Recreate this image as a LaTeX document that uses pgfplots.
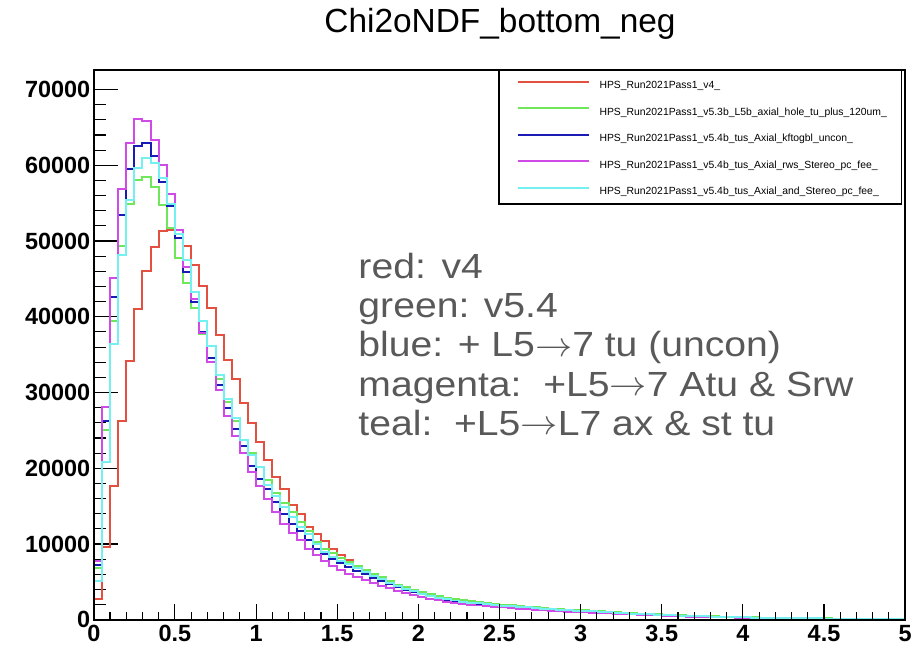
\documentclass[border=0pt]{standalone}
\usepackage{fontspec}
\setmainfont{Liberation Sans}
\newfontfamily\annfont[FakeStretch=1.12]{Liberation Sans}
\usepackage{graphicx}
\usepackage{pgfplots}
\usepackage{pgfplotstable}
\pgfplotsset{compat=1.18}
\definecolor{hred}{HTML}{E4503F}
\definecolor{hgreen}{HTML}{6EE85A}
\definecolor{hblue}{HTML}{1A1AB4}
\definecolor{hmag}{HTML}{D04AE8}
\definecolor{hcyan}{HTML}{74F0F0}
\definecolor{anngrey}{HTML}{595959}
\pgfplotstableread{
x r g b m c
0.00 2700 6800 7200 7700 5100
0.05 9600 25000 26300 28100 20800
0.10 17600 39400 42600 45100 36400
0.15 26200 49300 53400 56900 48100
0.20 34200 54900 59500 63000 55400
0.25 41000 58100 62600 66100 59600
0.30 46000 58500 63000 65900 61000
0.35 49200 57100 61200 63400 60300
0.40 51300 54800 57800 60100 58300
0.45 51500 51700 54600 56200 54900
0.50 50900 47800 50400 51400 50900
0.55 49300 44500 45900 46600 47500
0.60 46800 41100 42000 42300 43300
0.65 44100 37700 38000 37800 39400
0.70 41100 34500 34500 34000 36100
0.75 37600 31800 31000 30300 32300
0.80 34300 28800 27900 26900 29100
0.85 31800 26200 25200 24300 26700
0.90 28600 23700 23000 22000 23700
0.95 26000 22000 20300 19500 21700
1.00 23500 20200 18600 17700 20100
1.05 21100 18400 17300 15900 17800
1.10 18900 16700 15600 14200 16400
1.15 17300 15400 14000 12700 14900
1.20 15200 14200 12600 11500 13600
1.25 14000 12900 11700 10500 12300
1.30 12200 11700 10500 9400 11300
1.35 11300 10300 9400 8500 10000
1.40 10400 9400 8700 7800 8900
1.45 9400 8800 8000 7100 8300
1.50 8600 8200 7500 6600 7800
1.55 7900 7600 7000 6100 7300
1.60 7100 7100 6500 5600 6800
1.65 6400 6600 6000 5200 6300
1.70 5900 6100 5500 4800 5800
1.75 5500 5600 5100 4450 5350
1.80 5000 5100 4700 4150 4900
1.85 4550 4650 4300 3850 4450
1.90 4200 4300 3950 3550 4100
1.95 3850 3950 3650 3280 3750
2.00 3550 3650 3350 3000 3450
2.05 3200 3350 3080 2770 3160
2.10 2950 3100 2840 2580 2920
2.15 2760 2900 2640 2400 2730
2.20 2570 2700 2460 2240 2540
2.25 2420 2550 2310 2100 2400
2.30 2300 2420 2180 1980 2270
2.35 2190 2300 2060 1880 2160
2.40 2090 2200 1960 1790 2070
2.45 1990 2090 1860 1700 1960
2.50 1890 1990 1770 1620 1870
2.55 1800 1900 1690 1540 1790
2.60 1720 1810 1610 1470 1700
2.65 1630 1720 1530 1400 1620
2.70 1560 1640 1460 1330 1540
2.75 1480 1560 1390 1260 1470
2.80 1410 1480 1320 1200 1390
2.85 1340 1410 1250 1140 1330
2.90 1270 1340 1190 1080 1260
2.95 1220 1290 1140 1030 1210
3.00 1180 1240 1090 990 1170
3.05 1110 1170 1030 940 1100
3.10 1050 1110 980 890 1040
3.15 1000 1050 920 840 990
3.20 940 990 870 790 930
3.25 880 930 820 740 870
3.30 830 870 770 700 820
3.35 770 810 710 650 760
3.40 720 760 670 610 710
3.45 670 700 620 560 660
3.50 620 650 570 520 610
3.55 580 610 540 490 570
3.60 540 570 500 460 540
3.65 500 530 470 420 500
3.70 475 500 440 400 470
3.75 440 460 400 370 430
3.80 410 430 380 340 400
3.85 380 400 350 320 380
3.90 350 370 330 300 350
3.95 330 345 300 275 320
4.00 305 320 280 255 300
4.05 285 300 265 240 280
4.10 265 280 245 225 260
4.15 250 260 230 210 245
4.20 235 245 215 195 230
4.25 220 230 200 185 215
4.30 205 215 190 170 200
4.35 190 200 175 160 190
4.40 180 190 165 150 180
4.45 170 180 160 145 170
4.50 160 170 150 135 160
4.55 150 160 140 130 150
4.60 140 150 130 120 140
4.65 135 140 125 110 130
4.70 125 130 115 105 120
4.75 120 125 110 100 115
4.80 110 115 100 90 110
4.85 105 110 95 88 100
4.90 95 100 90 80 95
4.95 90 95 85 76 90
5.00 90 95 85 76 90
}\histdata
\newcommand{\arr}{\raisebox{0.02em}{\scalebox{1.5}[1.4]{\(\rightarrow\)}}}
\begin{document}
\begin{tikzpicture}
\path (0pt,0pt) rectangle (915pt,648pt);
% axis with data and y ticks
\begin{axis}[
  at={(94pt,27pt)}, anchor=south west,
  scale only axis, width=813pt, height=551pt,
  xmin=0, xmax=5, ymin=0, ymax=72600,
  axis line style={line width=1.6pt},
  tick style={black, line width=1.1pt},
  tick align=inside, tick pos=left,
  xtick=\empty,
  ytick={0,10000,20000,30000,40000,50000,60000,70000},
  minor y tick num=4,
  major tick length=24pt, minor tick length=12pt,
  scaled y ticks=false,
  /pgf/number format/assume math mode=true,
  yticklabel={\pgfmathprintnumber[fixed,precision=0,set thousands separator={}]{\tick}},
  yticklabel style={font=\fontsize{23.5}{24}\selectfont\bfseries},
  no markers,
  legend style={at={(axis description cs:0.521,0.981)}, anchor=north west,
    draw=none, fill=none, font=\fontsize{10.4}{12}\selectfont,
    row sep=15.5pt, inner sep=0pt, nodes={inner sep=1pt},
    /tikz/every odd column/.append style={column sep=9pt}},
  legend cell align=left,
  legend image code/.code={\draw[#1, line width=2pt] (0pt,3.8pt) -- (71pt,3.8pt);},
]
\addplot[const plot, hred, line width=2pt] table[x=x,y=r]{\histdata};
\addlegendentry{HPS\_Run2021Pass1\_v4\_}
\addplot[const plot, hgreen, line width=2pt] table[x=x,y=g]{\histdata};
\addlegendentry{HPS\_Run2021Pass1\_v5.3b\_L5b\_axial\_hole\_tu\_plus\_120um\_}
\addplot[const plot, hblue, line width=2pt] table[x=x,y=b]{\histdata};
\addlegendentry{HPS\_Run2021Pass1\_v5.4b\_tus\_Axial\_kftogbl\_uncon\_}
\addplot[const plot, hmag, line width=2pt] table[x=x,y=m]{\histdata};
\addlegendentry{HPS\_Run2021Pass1\_v5.4b\_tus\_Axial\_rws\_Stereo\_pc\_fee\_}
\addplot[const plot, hcyan, line width=2pt] table[x=x,y=c]{\histdata};
\addlegendentry{HPS\_Run2021Pass1\_v5.4b\_tus\_Axial\_and\_Stereo\_pc\_fee\_}
\draw[line width=1.1pt] (axis description cs:0.4994,1) rectangle (axis description cs:0.996,0.756);
\end{axis}
% axis for x ticks
\begin{axis}[
  at={(94pt,27pt)}, anchor=south west,
  scale only axis, width=813pt, height=551pt,
  xmin=0, xmax=5, ymin=0, ymax=72600,
  axis line style={line width=1.6pt},
  tick style={black, line width=1.1pt},
  tick align=inside, tick pos=left,
  ytick=\empty,
  xtick={0,0.5,1,1.5,2,2.5,3,3.5,4,4.5,5},
  minor x tick num=4,
  major tick length=16pt, minor tick length=8pt,
  /pgf/number format/assume math mode=true,
  xticklabel style={font=\fontsize{23.5}{24}\selectfont\bfseries, yshift=-2pt},
]
\end{axis}
\node[anchor=base, font=\fontsize{33.5}{34}\selectfont] at (501pt,615pt) {Chi2oNDF\_bottom\_neg};
\begin{scope}[every node/.style={anchor=base west, font=\annfont\fontsize{35}{35}\selectfont, text=anngrey, inner sep=0pt}]
\node at (359pt,369pt) {red:\hspace{0.45em}v4};
\node at (359pt,330pt) {green: v5.4};
\node at (359pt,290.5pt) {blue: + L5\arr7 tu (uncon)};
\node at (359pt,251pt) {magenta:\ \ +L5\arr7 Atu \& Srw};
\node at (359pt,211.5pt) {teal:\ \ +L5\arr L7 ax \& st tu};
\end{scope}
\end{tikzpicture}
\end{document}
